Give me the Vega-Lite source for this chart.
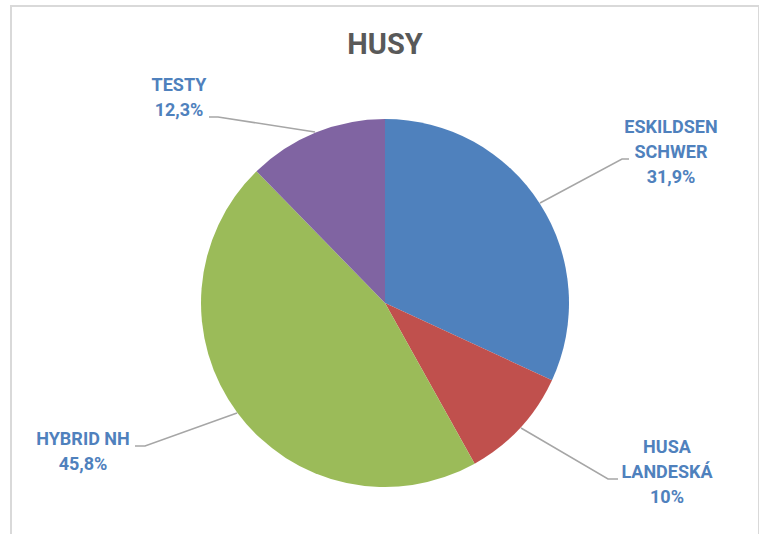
{
  "$schema": "https://vega.github.io/schema/vega-lite/v6.json",
  "autosize": {"type": "none"},
  "padding": {"left": 11, "top": 6, "right": 0, "bottom": 0},
  "width": 748,
  "height": 540,
  "background": "white",
  "config": {"view": {"stroke": "#D9D9D9", "strokeWidth": 2}},
  "title": {
    "text": "HUSY",
    "font": "Roboto",
    "fontSize": 29,
    "fontWeight": "bold",
    "color": "#595959",
    "anchor": "middle",
    "baseline": "alphabetic",
    "offset": -49,
    "dy": 28
  },
  "datasets": {
    "slices": [
      {"name": "ESKILDSEN SCHWER", "value": 31.9, "order": 1, "label": "ESKILDSEN\nSCHWER\n31,9%", "lx": 1.5543, "ly": 0.9511},
      {"name": "HUSA LANDESKÁ", "value": 10.0, "order": 2, "label": "HUSA\nLANDESKÁ\n10%", "lx": 1.5326, "ly": -0.7880},
      {"name": "HYBRID NH", "value": 45.8, "order": 3, "label": "HYBRID NH\n45,8%", "lx": -1.6413, "ly": -0.7446},
      {"name": "TESTY", "value": 12.3, "order": 4, "label": "TESTY\n12,3%", "lx": -1.1196, "ly": 1.1793}
    ],
    "leaders": [
      {"name": "TESTY", "k": 1, "px": -0.9565, "py": 1.0109},
      {"name": "TESTY", "k": 2, "px": -0.9076, "py": 1.0109},
      {"name": "TESTY", "k": 3, "px": -0.3804, "py": 0.9293},
      {"name": "ESKILDSEN SCHWER", "k": 1, "px": 1.3261, "py": 0.7826},
      {"name": "ESKILDSEN SCHWER", "k": 2, "px": 1.2880, "py": 0.7826},
      {"name": "ESKILDSEN SCHWER", "k": 3, "px": 0.8424, "py": 0.5435},
      {"name": "HYBRID NH", "k": 1, "px": -1.3587, "py": -0.7772},
      {"name": "HYBRID NH", "k": 2, "px": -1.3043, "py": -0.7772},
      {"name": "HYBRID NH", "k": 3, "px": -0.8043, "py": -0.5978},
      {"name": "HUSA LANDESKÁ", "k": 1, "px": 0.7391, "py": -0.6793},
      {"name": "HUSA LANDESKÁ", "k": 2, "px": 1.2120, "py": -0.9565},
      {"name": "HUSA LANDESKÁ", "k": 3, "px": 1.2663, "py": -0.9565}
    ]
  },
  "layer": [
    {
      "data": {"name": "slices"},
      "mark": {"type": "arc", "outerRadius": 184, "stroke": null},
      "encoding": {
        "x": {"datum": 0, "type": "quantitative", "scale": {"domain": [-2.0326, 2.0326]}, "axis": null},
        "y": {"datum": 0, "type": "quantitative", "scale": {"domain": [-1.3207, 1.6141]}, "axis": null},
        "theta": {"field": "value", "type": "quantitative", "stack": true},
        "order": {"field": "order", "type": "quantitative"},
        "color": {
          "field": "name",
          "type": "nominal",
          "scale": {
            "domain": ["ESKILDSEN SCHWER", "HUSA LANDESKÁ", "HYBRID NH", "TESTY"],
            "range": ["#4F81BD", "#C0504D", "#9BBB59", "#8064A2"]
          },
          "legend": null
        }
      }
    },
    {
      "data": {"name": "leaders"},
      "mark": {"type": "line", "color": "#A6A6A6", "strokeWidth": 1.5},
      "encoding": {
        "x": {"field": "px", "type": "quantitative", "scale": {"domain": [-2.0326, 2.0326]}, "axis": null},
        "y": {"field": "py", "type": "quantitative", "scale": {"domain": [-1.3207, 1.6141]}, "axis": null},
        "detail": {"field": "name"},
        "order": {"field": "k", "type": "quantitative"}
      }
    },
    {
      "data": {"name": "slices"},
      "mark": {
        "type": "text",
        "font": "Roboto",
        "fontSize": 18,
        "fontWeight": "bold",
        "color": "#4F81BD",
        "align": "center",
        "baseline": "middle",
        "lineBreak": "\n",
        "lineHeight": 25
      },
      "encoding": {
        "x": {"field": "lx", "type": "quantitative", "scale": {"domain": [-2.0326, 2.0326]}, "axis": null},
        "y": {"field": "ly", "type": "quantitative", "scale": {"domain": [-1.3207, 1.6141]}, "axis": null},
        "text": {"field": "label"}
      }
    }
  ]
}
